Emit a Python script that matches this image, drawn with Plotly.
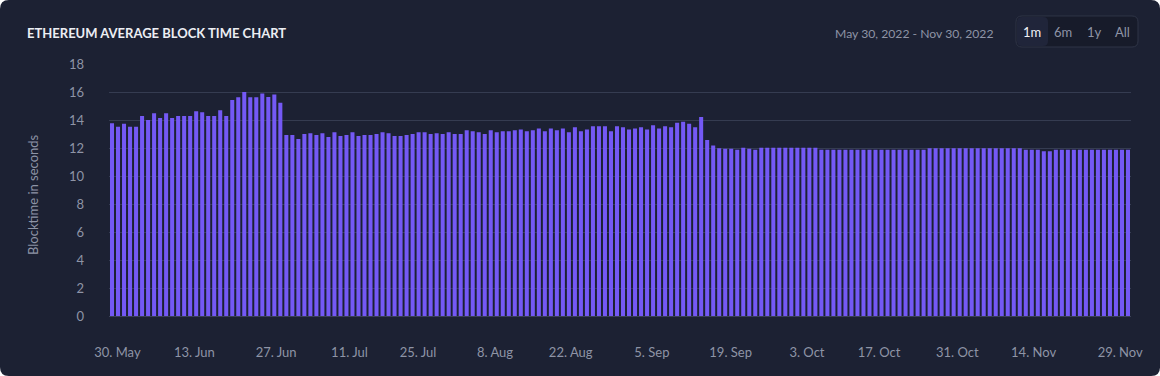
import plotly.graph_objects as go

# ---------------- data ----------------
block_times = [
    13.76, 13.52, 13.74, 13.52, 13.52, 14.29, 14.00, 14.48, 14.14, 14.48,
    14.14, 14.29, 14.29, 14.29, 14.62, 14.55, 14.29, 14.29, 14.69, 14.29,
    15.43, 15.62, 16.00, 15.62, 15.62, 15.90, 15.64, 15.83, 15.24, 12.93,
    12.93, 12.64, 13.00, 13.05, 12.93, 13.05, 12.79, 13.12, 12.86, 12.93,
    13.12, 12.86, 12.93, 12.93, 13.00, 13.12, 13.05, 12.86, 12.86, 12.93,
    13.00, 13.12, 13.12, 13.00, 13.05, 13.00, 13.12, 13.00, 13.00, 13.26,
    13.19, 13.12, 13.00, 13.26, 13.12, 13.19, 13.19, 13.26, 13.33, 13.19,
    13.26, 13.40, 13.19, 13.40, 13.26, 13.40, 13.12, 13.48, 13.19, 13.33,
    13.55, 13.55, 13.55, 13.19, 13.55, 13.48, 13.33, 13.40, 13.48, 13.33,
    13.62, 13.40, 13.55, 13.48, 13.81, 13.88, 13.74, 13.48, 14.21, 12.57,
    12.17, 11.98, 11.95, 11.95, 11.88, 12.02, 11.95, 11.88, 12.02, 12.02,
    12.02, 12.02, 12.02, 12.02, 12.02, 12.02, 12.02, 12.02, 11.88, 11.88,
    11.88, 11.88, 11.88, 11.88, 11.88, 11.88, 11.88, 11.88, 11.88, 11.88,
    11.88, 11.88, 11.88, 11.88, 11.88, 11.88, 11.98, 11.98, 11.98, 11.98,
    11.98, 11.98, 11.98, 11.98, 11.98, 11.98, 11.98, 11.98, 11.98, 11.98,
    11.98, 11.98, 11.88, 11.88, 11.88, 11.76, 11.76, 11.88, 11.88, 11.88,
    11.88, 11.88, 11.88, 11.88, 11.88, 11.88, 11.88, 11.88, 11.88, 11.88,
]
bar_index = list(range(len(block_times)))

# x tick labels and where they fall (in bar-index units)
x_tick_labels = ["30. May", "13. Jun", "27. Jun", "11. Jul", "25. Jul", "8. Aug",
                 "22. Aug", "5. Sep", "19. Sep", "3. Oct", "17. Oct", "31. Oct",
                 "14. Nov", "29. Nov"]
x_tick_at = [0.9, 13.7, 27.3, 39.5, 50.9, 63.7, 76.3, 89.8, 102.9, 115.6,
             127.6, 140.6, 153.3, 167.7]
y_ticks = [0, 2, 4, 6, 8, 10, 12, 14, 16, 18]

title_text = "ETHEREUM AVERAGE BLOCK TIME CHART"
range_text = "May 30, 2022 - Nov 30, 2022"
range_buttons = ["1m", "6m", "1y", "All"]
y_title = "Blocktime in seconds"

# ---------------- layout geometry ----------------
W, H = 1160, 376
L, R, T, B = 109, 29, 64, 60
PW, PH = W - L - R, H - T - B

def px(xp):
    return (xp - L) / PW

def py(yp):
    return (H - B - yp) / PH

def rounded_rect(x0, y0, x1, y1, r):
    # pixel coords (y down) -> paper-coordinate SVG path
    def P(a, b):
        return f"{px(a):.5f},{py(b):.5f}"
    return (f"M {P(x0 + r, y0)} L {P(x1 - r, y0)} Q {P(x1, y0)} {P(x1, y0 + r)} "
            f"L {P(x1, y1 - r)} Q {P(x1, y1)} {P(x1 - r, y1)} "
            f"L {P(x0 + r, y1)} Q {P(x0, y1)} {P(x0, y1 - r)} "
            f"L {P(x0, y0 + r)} Q {P(x0, y0)} {P(x0 + r, y0)} Z")

CARD = "#1c2133"
GRID = "#353c51"
BAR = "#7459f5"
LABEL = "#8e94a6"
FONT = "Lato, 'Open Sans', sans-serif"

fig = go.Figure(go.Bar(
    x=bar_index, y=block_times,
    marker=dict(color=BAR, line=dict(width=0)),
    hovertemplate="%{y:.2f} s<extra></extra>",
))

shapes = [
    dict(type="path", xref="paper", yref="paper", layer="below",
         path=rounded_rect(0, 0, W, H, 9), fillcolor=CARD, line=dict(width=0)),
    dict(type="path", xref="paper", yref="paper", layer="above",
         path=rounded_rect(1016, 16, 1138, 47, 6), fillcolor="#171b2a",
         line=dict(color="#2f3547", width=1)),
    dict(type="path", xref="paper", yref="paper", layer="above",
         path=rounded_rect(1017, 17, 1048, 46, 5), fillcolor="#20253a",
         line=dict(width=0)),
]

annotations = [
    dict(text=f"<b>{title_text}</b>", x=px(25), y=py(33), xref="paper", yref="paper",
         xanchor="left", yanchor="middle", showarrow=False,
         font=dict(family=FONT, size=13, color="#eceef3")),
    dict(text=range_text, x=px(996), y=py(33), xref="paper", yref="paper",
         xanchor="right", yanchor="middle", showarrow=False,
         font=dict(family=FONT, size=12.2, color=LABEL)),
    dict(text=y_title, x=px(33), y=py(195), xref="paper", yref="paper",
         xanchor="center", yanchor="middle", textangle=-90, showarrow=False,
         font=dict(family=FONT, size=13, color=LABEL)),
]
btn_centers = [1032, 1063, 1094, 1122]
for lab, cx in zip(range_buttons, btn_centers):
    annotations.append(dict(
        text=lab, x=px(cx), y=py(32), xref="paper", yref="paper",
        xanchor="center", yanchor="middle", showarrow=False,
        font=dict(family=FONT, size=13, color="#f2f3f7" if lab == "1m" else LABEL)))

fig.update_layout(
    width=W, height=H,
    margin=dict(l=L, r=R, t=T, b=B, pad=0),
    paper_bgcolor="#ffffff",
    plot_bgcolor="rgba(0,0,0,0)",
    bargap=0.33,
    showlegend=False,
    shapes=shapes,
    annotations=annotations,
    font=dict(family=FONT, color=LABEL, size=13),
    xaxis=dict(
        range=[-0.5, len(block_times) - 0.5],
        tickmode="array", tickvals=x_tick_at, ticktext=x_tick_labels,
        showgrid=False, zeroline=False,
        showline=True, linecolor="#3b4257", linewidth=1,
        ticks="", ticklabelstandoff=24,
        tickfont=dict(family=FONT, size=13, color=LABEL),
        fixedrange=True,
    ),
    yaxis=dict(
        range=[0, 18],
        tickmode="array", tickvals=y_ticks,
        showgrid=True, gridcolor=GRID, gridwidth=1,
        zeroline=False, showline=False,
        ticks="", ticklabelstandoff=24,
        tickfont=dict(family=FONT, size=13, color=LABEL),
        fixedrange=True,
    ),
)

fig.write_html("out.html", config={"displayModeBar": False},
               post_script="document.body.style.margin='0';")
